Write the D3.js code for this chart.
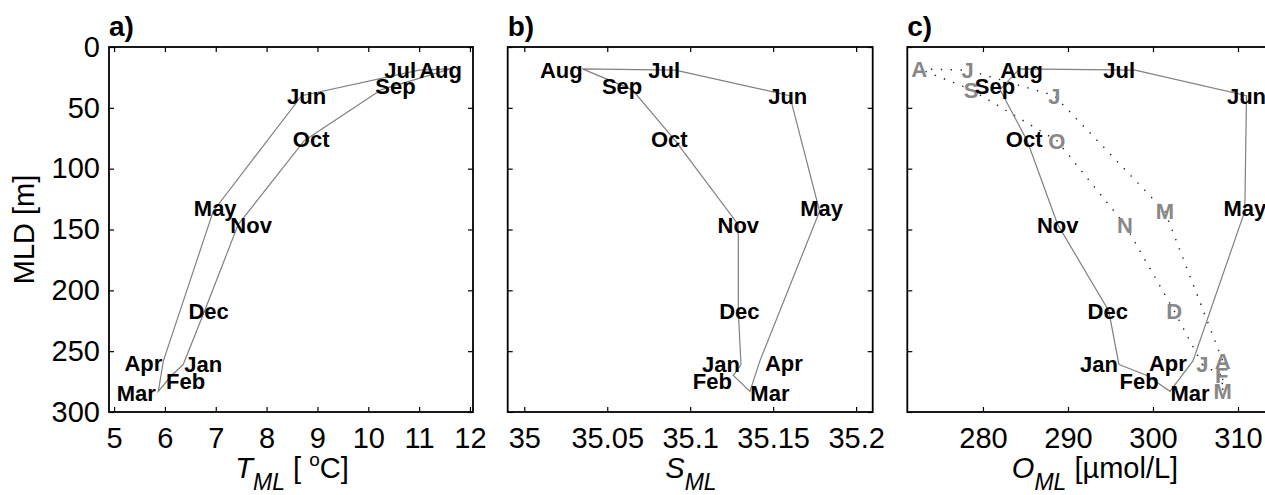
<!DOCTYPE html>
<html>
<head>
<meta charset="utf-8">
<script src="https://cdn.jsdelivr.net/npm/d3@7"></script>
<style>
  body { margin: 0; background: #fff; }
  svg { display: block; font-family: "Liberation Sans", Arial, sans-serif; }
</style>
</head>
<body>
<div id="chart"></div>
<script>
// monthly mixed-layer climatology
const months = ["Jan", "Feb", "Mar", "Apr", "May", "Jun", "Jul", "Aug", "Sep", "Oct", "Nov", "Dec"];
const monthLetters = ["J", "F", "M", "A", "M", "J", "J", "A", "S", "O", "N", "D"];
const mld = [261, 270, 283, 258, 135, 40, 19, 18, 35, 77, 146, 217];
const tempML = [6.36, 6.13, 5.87, 5.97, 6.95, 8.69, 11.0, 11.62, 10.26, 8.74, 7.44, 6.78];
const saltML = [35.1306, 35.126, 35.136, 35.142, 35.178, 35.160, 35.091, 35.035, 35.065, 35.091, 35.129, 35.129];
const oxyML = [296.0, 299.3, 302.0, 304.7, 310.8, 311.0, 297.9, 284.3, 282.0, 285.2, 288.8, 294.8];
const oxySat = [305.8, 308.1, 308.2, 308.2, 301.4, 288.4, 278.2, 272.5, 278.6, 288.7, 296.7, 302.5];

const mldTicks = [0, 50, 100, 150, 200, 250, 300];
const tempTicks = [5, 6, 7, 8, 9, 10, 11, 12];
const saltTicks = [35, 35.05, 35.1, 35.15, 35.2];
const saltTickLabels = ["35", "35.05", "35.1", "35.15", "35.2"];
const oxyTicks = [280, 290, 300, 310];

// label nudges (px) so month names sit beside the loop like the original
const labelDy = [0, 6, 2, 2, -3, 0, 0, 1, -4, -2, 0, 0];
const dxTemp = [20, 14, -22, -20, 2, 5, -19, -10, 14, 7, 13, 4];
const dxSalt = [-20, -21, 20, 24, 2, -2, -11, -21, -10, -6, 0, 1];
const dxOxy = [-20, -8, 20, -25, 0, 0, -16, 2, -5, -3, 0, -1];

const width = 1265;
const height = 495;
const plotTop = 47, plotBottom = 412;

const svg = d3.select("#chart").append("svg")
    .attr("width", width)
    .attr("height", height)
    .attr("viewBox", [0, 0, width, height]);

const y = d3.scaleLinear([0, 300], [plotTop, plotBottom]);

const panels = [
    { tag: "a)", left: 109, right: 473, domain: [4.9, 12.06], values: tempML, dx: dxTemp,
      ticks: tempTicks, tickLabels: tempTicks.map(String), showY: true },
    { tag: "b)", left: 507.7, right: 872.7, domain: [34.99, 35.21], values: saltML, dx: dxSalt,
      ticks: saltTicks, tickLabels: saltTickLabels, showY: false },
    { tag: "c)", left: 907.3, right: 1272, domain: [271.1, 314], values: oxyML, dx: dxOxy,
      ticks: oxyTicks, tickLabels: oxyTicks.map(String), showY: false, sat: oxySat }
];

const loop = d => d.concat([d[0]]);

panels.forEach(p => {
    const x = d3.scaleLinear(p.domain, [p.left, p.right]);
    const g = svg.append("g");

    const line = d3.line()
        .x(i => x(p.values[i]))
        .y(i => y(mld[i]));

    const idx = loop(d3.range(12));

    if (p.sat) {
        const satLine = d3.line()
            .x(i => x(p.sat[i]))
            .y(i => y(mld[i]));
        g.append("path")
            .attr("d", satLine(idx))
            .attr("fill", "none")
            .attr("stroke", "#222")
            .attr("stroke-width", 1.4)
            .attr("stroke-dasharray", "1.4,8.5");
    }

    g.append("path")
        .attr("d", line(idx))
        .attr("fill", "none")
        .attr("stroke", "#808080")
        .attr("stroke-width", 1.2);

    if (p.sat) {
        g.selectAll(".sat")
            .data(d3.range(12))
            .join("text")
            .attr("class", "sat")
            .attr("x", i => x(p.sat[i]))
            .attr("y", i => y(mld[i]))
            .attr("dy", "0.36em")
            .attr("text-anchor", "middle")
            .attr("font-size", 22)
            .attr("font-weight", "bold")
            .attr("fill", "#888")
            .text(i => monthLetters[i]);
    }

    g.selectAll(".mon")
        .data(d3.range(12))
        .join("text")
        .attr("class", "mon")
        .attr("x", i => x(p.values[i]) + p.dx[i])
        .attr("y", i => y(mld[i]) + labelDy[i])
        .attr("dy", "0.36em")
        .attr("text-anchor", "middle")
        .attr("font-size", 22)
        .attr("font-weight", "bold")
        .attr("fill", "#000")
        .text(i => months[i]);

    // axes, ticks pointing inward on all sides
    g.append("g")
        .attr("transform", `translate(0,${plotBottom})`)
        .call(d3.axisBottom(x).tickValues(p.ticks).tickSize(-5).tickPadding(15)
            .tickFormat((d, i) => p.tickLabels[i]))
        .call(a => a.select(".domain").remove())
        .call(a => a.selectAll("text").attr("font-size", 29).attr("fill", "#000")
            .attr("font-family", "Liberation Sans, Arial, sans-serif"));

    g.append("g")
        .attr("transform", `translate(0,${plotTop})`)
        .call(d3.axisTop(x).tickValues(p.ticks).tickSize(-5).tickFormat(""))
        .call(a => a.select(".domain").remove());

    g.append("g")
        .attr("transform", `translate(${p.left},0)`)
        .call(d3.axisLeft(y).tickValues(mldTicks).tickSize(-5).tickPadding(9)
            .tickFormat(p.showY ? d3.format("d") : ""))
        .call(a => a.select(".domain").remove())
        .call(a => a.selectAll("text").attr("font-size", 29).attr("fill", "#000")
            .attr("font-family", "Liberation Sans, Arial, sans-serif"));

    g.append("g")
        .attr("transform", `translate(${p.right},0)`)
        .call(d3.axisRight(y).tickValues(mldTicks).tickSize(-5).tickFormat(""))
        .call(a => a.select(".domain").remove());

    g.selectAll(".tick line").attr("stroke", "#000").attr("stroke-width", 1.2);

    g.append("rect")
        .attr("x", p.left)
        .attr("y", plotTop)
        .attr("width", p.right - p.left)
        .attr("height", plotBottom - plotTop)
        .attr("fill", "none")
        .attr("stroke", "#000")
        .attr("stroke-width", 1.8);

    g.append("text")
        .attr("x", p.left)
        .attr("y", 36)
        .attr("font-size", 28)
        .attr("font-weight", "bold")
        .text(p.tag);
});

// axis titles
svg.append("text")
    .attr("transform", "translate(34,229.5) rotate(-90)")
    .attr("text-anchor", "middle")
    .attr("font-size", 29)
    .text("MLD [m]");

function xTitle(cx, sym, rest) {
    const t = svg.append("text")
        .attr("x", cx)
        .attr("y", 478)
        .attr("text-anchor", "middle")
        .attr("font-size", 29);
    t.append("tspan").attr("font-style", "italic").text(sym);
    t.append("tspan").attr("font-style", "italic").attr("font-size", 23).attr("dy", 12).text("ML");
    rest(t);
}

xTitle(292, "T", t => {
    t.append("tspan").attr("dy", -12).text(" [ ");
    t.append("tspan").attr("font-size", 19).attr("dy", -12).text("o");
    t.append("tspan").attr("dy", 12).text("C]");
});
xTitle(691, "S", t => {});
xTitle(1095, "O", t => {
    t.append("tspan").attr("dy", -12).text(" [\u00b5mol/L]");
});
</script>
</body>
</html>
